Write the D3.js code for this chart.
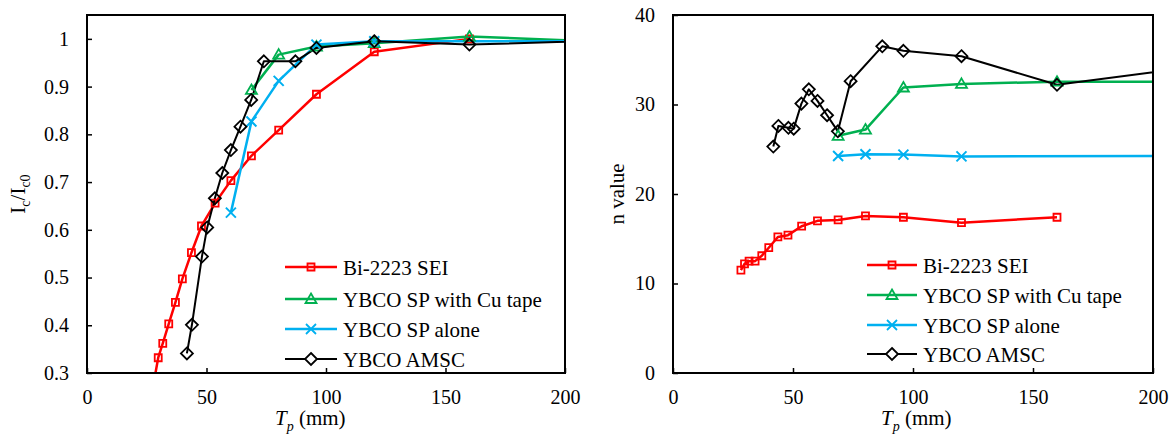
<!DOCTYPE html>
<html><head><meta charset="utf-8">
<script src="https://cdn.jsdelivr.net/npm/d3@7"></script>
<style>
html,body{margin:0;padding:0;background:#fff;}
svg, svg text{font-family:'Liberation Serif','Times New Roman',Times,'DejaVu Serif',serif;}
</style></head>
<body>
<svg id="c" width="1175" height="438"></svg>
<script>
// ---------- data ----------
const seriesNames = ["Bi-2223 SEI", "YBCO SP with Cu tape", "YBCO SP alone", "YBCO AMSC"];
const xTicks = [0, 50, 100, 150, 200];
const leftYTicks = [0.3, 0.4, 0.5, 0.6, 0.7, 0.8, 0.9, 1];
const leftYTickLabels = ["0.3", "0.4", "0.5", "0.6", "0.7", "0.8", "0.9", "1"];
const rightYTicks = [0, 10, 20, 30, 40];

// Bi-2223 SEI
const biX   = [28.3, 29.8, 31.7, 34.2, 37.0, 39.9, 43.7, 47.9, 53.6, 60.2, 68.8, 80.2, 96.0, 120.2, 160.0];
const biIc  = [0.29, 0.332, 0.362, 0.403, 0.448, 0.497, 0.552, 0.608, 0.656, 0.703, 0.755, 0.809, 0.884, 0.973, 1.0];
const biN   = [11.5, 12.2, 12.5, 12.5, 13.1, 14.0, 15.2, 15.4, 16.4, 17.0, 17.1, 17.55, 17.4, 16.8, 17.4];
// YBCO SP with Cu tape
const cuX   = [68.8, 80.2, 96.0, 120.2, 160.0, 240];
const cuIc  = [0.893, 0.967, 0.984, 0.991, 1.005, 0.989];
const cuN   = [26.5, 27.2, 31.9, 32.3, 32.55, 32.55];
// YBCO SP alone
const spXIc = [60.2, 68.8, 80.2, 96.0, 120.2, 240];
const spIc  = [0.636, 0.827, 0.912, 0.988, 0.995, 0.995];
const spXN  = [68.8, 80.2, 96.0, 120.2, 240];
const spN   = [24.25, 24.45, 24.4, 24.2, 24.25];
// YBCO AMSC
const amX   = [41.8, 43.9, 48.1, 50.3, 53.5, 56.6, 60.2, 64.2, 68.7, 74.0, 87.2, 96.0, 120.2, 160.0, 240];
const amIc  = [0.341, 0.401, 0.544, 0.605, 0.666, 0.719, 0.767, 0.816, 0.872, 0.953, 0.953, 0.981, 0.995, 0.988, 1.0];
const amN   = [25.3, 27.6, 27.4, 27.3, 30.1, 31.7, 30.4, 28.8, 27.0, 32.6, 36.5, 36.0, 35.4, 32.2, 35.0];

// ---------- styles ----------
const colors = ["#FF0000", "#00B050", "#00B0F0", "#000000"];
const lineW = [2.5, 2.5, 2.5, 2];
const markers = ["square", "triangle", "x", "diamond"];
const SERIF = "'Liberation Serif','Times New Roman',Times,'DejaVu Serif',serif";

function markerPath(type) {
  switch (type) {
    case "square": return "M-3.5,-3.5H3.5V3.5H-3.5Z";
    case "triangle": return "M0,-5.5L5.5,4L-5.5,4Z";
    case "diamond": return "M0,-6L6,0L0,6L-6,0Z";
    case "x": return "M-5,-5L5,5M-5,5L5,-5";
  }
}

const svg = d3.select("#c").attr("font-family", SERIF);
const FONT = 20;

function panel(opts) {
  const {id, xRange, yDomain, yRange, yTicks, yLabels, series, legend, xLabelX, yLabelX, yLabelNodes} = opts;
  const x = d3.scaleLinear().domain([0, 200]).range(xRange);
  const y = d3.scaleLinear().domain(yDomain).range(yRange);
  const g = svg.append("g").attr("font-family", SERIF);
  const clipId = "clip" + id;
  svg.append("clipPath").attr("id", clipId).append("rect")
    .attr("x", xRange[0]).attr("y", yRange[1])
    .attr("width", xRange[1] - xRange[0]).attr("height", yRange[0] - yRange[1]);

  const xAx = g.append("g").attr("transform", `translate(0,${yRange[0]})`)
    .call(d3.axisBottom(x).tickValues(xTicks).tickSizeInner(-5).tickSizeOuter(0).tickPadding(17).tickFormat(d3.format("d")));
  const yAx = g.append("g").attr("transform", `translate(${xRange[0]},0)`)
    .call(d3.axisLeft(y).tickValues(yTicks).tickSizeInner(-5).tickSizeOuter(0).tickPadding(18)
      .tickFormat((d, i) => yLabels[i]));
  [xAx, yAx].forEach(a => {
    a.attr("font-family", SERIF).attr("font-size", FONT);
    a.select(".domain").remove();
    a.selectAll("line").attr("stroke", "#000").attr("stroke-width", 1.5);
    a.selectAll("text").attr("fill", "#000");
  });

  const data = g.append("g").attr("clip-path", `url(#${clipId})`);
  series.forEach((s, si) => {
    const pts = s.xs.map((v, i) => [v, s.ys[i]]);
    data.append("path").datum(pts)
      .attr("fill", "none").attr("stroke", colors[si]).attr("stroke-width", lineW[si])
      .attr("stroke-linejoin", "round")
      .attr("d", d3.line().x(d => x(d[0])).y(d => y(d[1])));
  });
  series.forEach((s, si) => {
    const pts = s.xs.map((v, i) => [v, s.ys[i]]);
    data.selectAll(null).data(pts).enter().append("path")
      .attr("transform", d => `translate(${x(d[0])},${y(d[1])})`)
      .attr("d", markerPath(markers[si]))
      .attr("fill", "none").attr("stroke", colors[si])
      .attr("stroke-width", si === 2 ? 2 : 1.8);
  });

  g.append("rect").attr("x", xRange[0]).attr("y", yRange[1])
    .attr("width", xRange[1] - xRange[0]).attr("height", yRange[0] - yRange[1])
    .attr("fill", "none").attr("stroke", "#000").attr("stroke-width", 2);

  seriesNames.forEach((name, i) => {
    const ly = legend.ys[i];
    g.append("line").attr("x1", legend.x0).attr("x2", legend.x1).attr("y1", ly).attr("y2", ly)
      .attr("stroke", colors[i]).attr("stroke-width", lineW[i]);
    g.append("path").attr("transform", `translate(${(legend.x0 + legend.x1) / 2},${ly})`)
      .attr("d", markerPath(markers[i])).attr("fill", i === 3 ? "#fff" : "none")
      .attr("stroke", colors[i]).attr("stroke-width", 1.8);
    g.append("text").attr("x", legend.tx).attr("y", ly + 8).attr("font-size", 21)
      .attr("font-family", SERIF).text(name);
  });

  const xl = g.append("text").attr("x", xLabelX).attr("y", 425).attr("font-size", 21).attr("font-family", SERIF);
  xl.append("tspan").attr("font-style", "italic").text("T");
  xl.append("tspan").attr("font-style", "italic").attr("font-size", 14).attr("dy", 6).text("p");
  xl.append("tspan").attr("dy", -6).text(" (mm)");

  const yl = g.append("text").attr("transform", `translate(${yLabelX},${(yRange[0] + yRange[1]) / 2}) rotate(-90)`)
    .attr("text-anchor", "middle").attr("font-size", 21).attr("font-family", SERIF);
  yLabelNodes(yl);
}

panel({
  id: "L", xRange: [87, 565], yDomain: [0.3, 1.05], yRange: [373, 15],
  yTicks: leftYTicks, yLabels: leftYTickLabels,
  series: [{xs: biX, ys: biIc}, {xs: cuX, ys: cuIc}, {xs: spXIc, ys: spIc}, {xs: amX, ys: amIc}],
  legend: {x0: 285, x1: 337, tx: 343, ys: [267, 299, 329, 359]},
  xLabelX: 275, yLabelX: 25,
  yLabelNodes: t => {
    t.append("tspan").text("I");
    t.append("tspan").attr("font-size", 14).attr("dy", 5).text("c");
    t.append("tspan").attr("dy", -5).text("/I");
    t.append("tspan").attr("font-size", 14).attr("dy", 5).text("c0");
  }
});

panel({
  id: "R", xRange: [673, 1153], yDomain: [0, 40], yRange: [373, 15],
  yTicks: rightYTicks, yLabels: rightYTicks.map(String),
  series: [{xs: biX, ys: biN}, {xs: cuX, ys: cuN}, {xs: spXN, ys: spN}, {xs: amX, ys: amN}],
  legend: {x0: 867, x1: 917, tx: 923, ys: [265, 295, 325, 354]},
  xLabelX: 881, yLabelX: 624,
  yLabelNodes: t => { t.text("n value"); }
});
</script>
</body></html>
